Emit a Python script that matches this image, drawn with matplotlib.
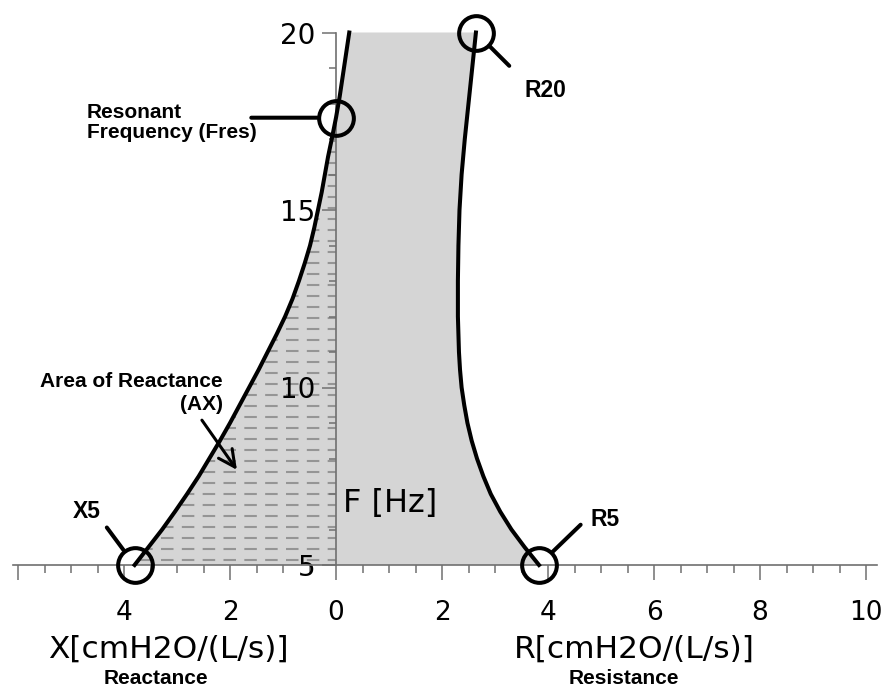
import numpy as np
import matplotlib
matplotlib.use('Agg')
import matplotlib.pyplot as plt
from matplotlib.ticker import FixedLocator

# reactance curve X(F), drawn on the negative side of the axis
f_react = [5.0, 5.5, 6.0, 6.5, 7.0, 7.5, 8.0, 8.5, 9.0, 9.5, 10.0, 10.5, 11.0, 11.5, 12.0,
           12.5, 13.0, 13.5, 14.0, 14.5, 15.0, 15.5, 16.0, 16.5, 17.0, 17.6, 18.2, 18.8, 19.4, 20.0]
x_react = [-3.80, -3.54, -3.28, -3.04, -2.81, -2.59, -2.39, -2.19, -2.00, -1.82, -1.64, -1.46,
           -1.29, -1.12, -0.96, -0.82, -0.70, -0.59, -0.49, -0.41, -0.34, -0.27, -0.21, -0.15,
           -0.08, 0.0, 0.07, 0.13, 0.19, 0.25]

# resistance curve R(F)
f_res = [5.0, 5.5, 6.0, 6.5, 7.0, 7.5, 8.0, 8.5, 9.0, 9.5, 10.0, 10.5, 11.0, 11.5, 12.0,
         13.0, 14.0, 15.0, 16.0, 17.0, 18.0, 19.0, 20.0]
r_res = [3.83, 3.56, 3.31, 3.10, 2.92, 2.78, 2.66, 2.56, 2.48, 2.42, 2.37, 2.34, 2.32, 2.31,
         2.30, 2.30, 2.31, 2.33, 2.37, 2.43, 2.50, 2.57, 2.64]

f_resonant = 17.6

x_tick_pos = [-6, -4, -2, 0, 2, 4, 6, 8, 10]
x_tick_lab = ['', '4', '2', '0', '2', '4', '6', '8', '10']
x_minor = np.arange(-6, 10.01, 0.5)
y_tick_pos = [5, 10, 15, 20]
y_minor = np.arange(5, 20.01, 1)

W, H = 889, 689
fig = plt.figure(figsize=(W / 100, H / 100), dpi=100)
ax = fig.add_axes([0, 0, 1, 1])
ax.set_xlim(-336 / 53, (W - 336) / 53)
ax.set_ylim(5 + (565 - H) / 35.5, 5 + 565 / 35.5)

axcol = '#707070'
for s in ['top', 'right']:
    ax.spines[s].set_visible(False)
ax.spines['bottom'].set_position(('data', 5))
ax.spines['left'].set_position(('data', 0))
ax.spines['bottom'].set_bounds(-6.1, 10.2)
ax.spines['left'].set_bounds(5, 20)
for s in ['bottom', 'left']:
    ax.spines[s].set_color(axcol)
    ax.spines[s].set_linewidth(1.2)
    ax.spines[s].set_zorder(2.5)

ax.xaxis.set_major_locator(FixedLocator(x_tick_pos))
ax.set_xticklabels(x_tick_lab)
ax.xaxis.set_minor_locator(FixedLocator(x_minor))
ax.yaxis.set_major_locator(FixedLocator(y_tick_pos))
ax.yaxis.set_minor_locator(FixedLocator(y_minor))
ax.tick_params(axis='x', which='major', direction='out', length=11, width=1.1,
               color=axcol, labelsize=19, pad=14)
ax.tick_params(axis='x', which='minor', direction='out', length=6, width=1.1, color=axcol)
ax.tick_params(axis='y', which='major', direction='out', length=10, width=1.1,
               color=axcol, labelsize=20, pad=5)
ax.tick_params(axis='y', which='minor', direction='out', length=5, width=1.1, color=axcol)

# grey area between the two curves
poly = ax.fill(np.concatenate([x_react, r_res[::-1]]),
               np.concatenate([f_react, f_res[::-1]]),
               color='#d5d5d5', lw=0, zorder=1)[0]

# dashed hatching of the reactance area
for f in np.arange(5.15, 17.5, 0.31):
    ln, = ax.plot([0, -4.5], [f, f], color='#959595', lw=1.5,
                  linestyle=(2, (6, 4)), zorder=1.5)
    ln.set_clip_path(poly)

ax.plot(x_react, f_react, color='black', lw=2.9, zorder=3, solid_joinstyle='round')
ax.plot(r_res, f_res, color='black', lw=2.9, zorder=3, solid_joinstyle='round')

# circles and leader lines
marks = [((x_react[0], f_react[0]), (-20, 27)),
         ((r_res[0], f_res[0]), (30, 29)),
         ((0, f_resonant), (-61, 0)),
         ((r_res[-1], f_res[-1]), (24, -24))]
for (cx, cy), off in marks:
    ax.plot([cx], [cy], marker='o', ms=25, mfc='none', mec='black', mew=2.9, zorder=4)
    ax.annotate('', xy=(cx, cy), xytext=off, textcoords='offset points',
                arrowprops=dict(arrowstyle='-', color='black', lw=2.9,
                                shrinkA=0, shrinkB=13.5), zorder=4)

# arrow into area of reactance
ax.annotate('', xy=(-1.87, 7.68), xytext=(-2.53, 9.08),
            arrowprops=dict(arrowstyle='->, head_length=0.6, head_width=0.3',
                            color='black', lw=2.2, shrinkA=0, shrinkB=0,
                            mutation_scale=20), zorder=4)

def px(x, y):
    return x / W, 1 - y / H

bold = dict(family='Liberation Sans', weight='bold', fontsize=15, va='baseline')
fig.text(*px(87, 118), 'Resonant', ha='left', **bold)
fig.text(*px(87, 138), 'Frequency (Fres)', ha='left', **bold)
fig.text(*px(223, 387), 'Area of Reactance', ha='right', **bold)
fig.text(*px(223, 410), '(AX)', ha='right', **bold)
fig.text(*px(156, 684), 'Reactance', ha='center', **bold)
fig.text(*px(624, 684), 'Resistance', ha='center', **bold)

pt = dict(family='Liberation Sans', weight='bold', fontsize=16.5, va='baseline')
fig.text(*px(101, 518), 'X5', ha='right', **pt)
fig.text(*px(590, 526), 'R5', ha='left', **pt)
fig.text(*px(524, 97), 'R20', ha='left', **pt)

reg = dict(family='DejaVu Sans', fontsize=22.5, va='baseline')
fig.text(*px(168, 658), 'X[cmH2O/(L/s)]', ha='center', **reg)
fig.text(*px(634, 658), 'R[cmH2O/(L/s)]', ha='center', **reg)
fig.text(*px(343, 512), 'F [Hz]', ha='left', family='DejaVu Sans', fontsize=23, va='baseline')

plt.savefig('out.png', dpi=100)
